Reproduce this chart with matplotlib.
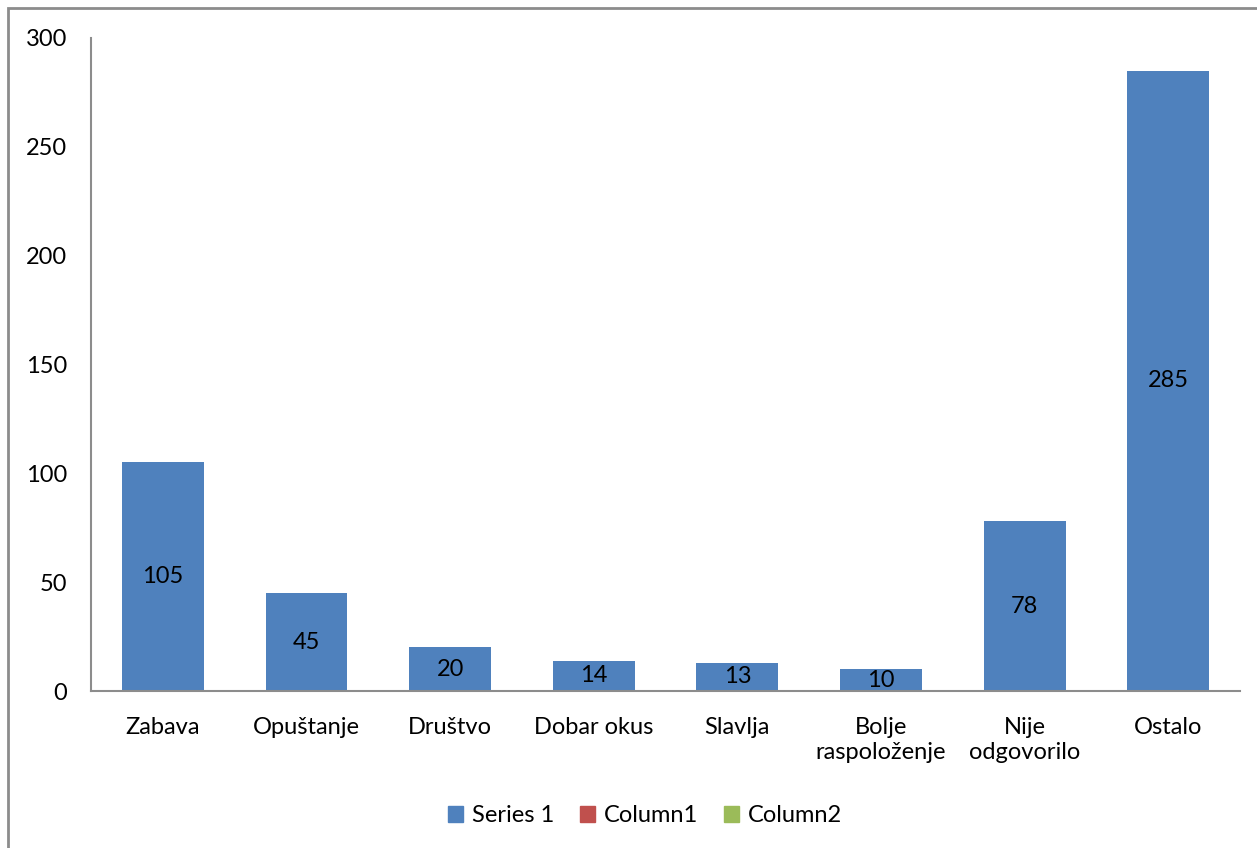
import matplotlib.pyplot as plt
from matplotlib.patches import Patch, Rectangle

kategorije = ['Zabava', 'Opuštanje', 'Društvo', 'Dobar okus', 'Slavlja',
              'Bolje\nraspoloženje', 'Nije\nodgovorilo', 'Ostalo']
vrijednosti = [105, 45, 20, 14, 13, 10, 78, 285]
serije = ['Series 1', 'Column1', 'Column2']
boje = ['#4F81BD', '#C0504D', '#9BBB59']
y_ticks = [0, 50, 100, 150, 200, 250, 300]

plt.rcParams['font.family'] = ['Lato', 'DejaVu Sans']

fig = plt.figure(figsize=(12.57, 8.48), dpi=100)
ax = fig.add_axes([0.0724, 0.1851, 0.9141, 0.7701])

x = list(range(len(kategorije)))
bars = ax.bar(x, vrijednosti, width=0.57, color=boje[0], zorder=2)
for b, v in zip(bars, vrijednosti):
    ax.text(b.get_x() + b.get_width() / 2, v / 2, str(v),
            ha='center', va='center', fontsize=17, color='black')

ax.set_xlim(-0.5, len(kategorije) - 0.5)
ax.set_ylim(0, 300)
ax.set_yticks(y_ticks)
ax.set_xticks(x)
ax.set_xticklabels(kategorije, fontsize=17, linespacing=1.2)
ax.tick_params(axis='y', labelsize=17, length=0, pad=17)
ax.tick_params(axis='x', length=0, pad=19)

for s in ['top', 'right']:
    ax.spines[s].set_visible(False)
for s in ['left', 'bottom']:
    ax.spines[s].set_color('#8c8c8c')
    ax.spines[s].set_linewidth(1.5)

handles = [Patch(color=c, label=n) for c, n in zip(boje, serije)]
fig.legend(handles=handles, loc='center', bbox_to_anchor=(0.513, 0.038),
           ncol=3, frameon=False, fontsize=17, handlelength=0.65,
           handleheight=0.65, handletextpad=0.35, columnspacing=1.1)

fig.patches.append(Rectangle((8 / 1257, -0.1), 2, 1.1 - 8 / 848,
                             transform=fig.transFigure, fill=False,
                             edgecolor='#8c8c8c', linewidth=2))

fig.savefig('out.png', dpi=100)
